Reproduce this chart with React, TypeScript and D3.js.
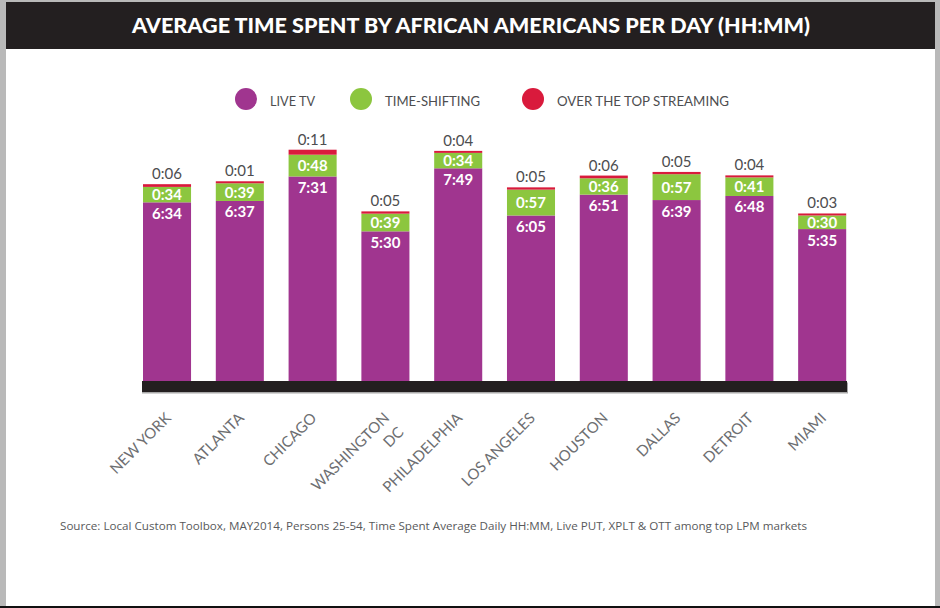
import React from 'react';
import * as d3 from 'd3';

// minutes per day
const cities = ['NEW YORK', 'ATLANTA', 'CHICAGO', 'WASHINGTON DC', 'PHILADELPHIA', 'LOS ANGELES', 'HOUSTON', 'DALLAS', 'DETROIT', 'MIAMI'];
const liveTv = [394, 397, 451, 330, 469, 365, 411, 399, 408, 335];
const timeShifting = [34, 39, 48, 39, 34, 57, 36, 57, 41, 30];
const ottStreaming = [6, 1, 11, 5, 4, 5, 6, 5, 4, 3];
const labelLines: Record<string, string[]> = { 'WASHINGTON DC': ['WASHINGTON', 'DC'] };

const legendItems = [
  { name: 'LIVE TV', color: '#a0358f', len: 45 },
  { name: 'TIME-SHIFTING', color: '#8cc63f', len: 95 },
  { name: 'OVER THE TOP STREAMING', color: '#d91a3c', len: 172 },
];

const fmt = (m: number) => `${Math.floor(m / 60)}:${d3.format('02d')(m % 60)}`;

const App: React.FC = () => {
  const W = 940;
  const H = 608;
  const baseY = 381;

  const x = d3.scaleBand<string>().domain(cities).range([143, 846.2]).paddingInner(0.34).paddingOuter(0);
  const y = d3.scaleLinear().domain([0, 600]).range([baseY, baseY - 600 * 0.4535]);
  const bw = x.bandwidth();
  const font = 'Lato, "Open Sans", sans-serif';

  const legendX = [246, 361, 533];

  return (
    <div style={{ position: 'absolute', left: 0, top: 0 }}>
      <svg width={W} height={H} style={{ display: 'block' }}>
        {/* page frame */}
        <rect x={0} y={0} width={W} height={H} fill="#b9b9b9" />
        <rect x={6} y={2} width={929} height={604} fill="#ffffff" />
        <rect x={0} y={606} width={W} height={2} fill="#111" />
        <rect x={6} y={2} width={929} height={47} fill="#231f20" />
        <text x={471} y={33} textAnchor="middle" fill="#fff" fontFamily={font} fontWeight={900} fontSize={20}
          textLength={678} lengthAdjust="spacingAndGlyphs">
          AVERAGE TIME SPENT BY AFRICAN AMERICANS PER DAY (HH:MM)
        </text>

        {/* legend */}
        {legendItems.map((d, i) => (
          <g key={d.name}>
            <circle cx={legendX[i]} cy={99} r={11} fill={d.color} />
            <text x={legendX[i] + 24} y={106} fill="#4d4d4f" fontFamily={font} fontSize={14}
              textLength={d.len} lengthAdjust="spacingAndGlyphs">{d.name}</text>
          </g>
        ))}

        {/* bars */}
        {cities.map((c, i) => {
          const x0 = x(c)!;
          const cx = x0 + bw / 2;
          const liveTop = y(liveTv[i]);
          const greenTop = y(liveTv[i] + timeShifting[i]);
          const redH = Math.max(y(0) - y(ottStreaming[i]), 2);
          const redTop = greenTop - redH;
          return (
            <g key={c}>
              <rect x={x0} y={liveTop} width={bw} height={baseY - liveTop} fill="#a0358f" />
              <rect x={x0} y={greenTop} width={bw} height={liveTop - greenTop} fill="#8cc63f" />
              <rect x={x0} y={redTop} width={bw} height={redH} fill="#d91a3c" />
              <text x={cx} y={liveTop + 16.5} textAnchor="middle" fill="#fff" fontFamily={font} fontWeight={700} fontSize={15}>
                {fmt(liveTv[i])}
              </text>
              <text x={cx} y={(liveTop + greenTop) / 2 + 5.5} textAnchor="middle" fill="#fff" fontFamily={font} fontWeight={700} fontSize={15}>
                {fmt(timeShifting[i])}
              </text>
              <text x={cx} y={redTop - 5} textAnchor="middle" fill="#4d4d4f" fontFamily={font} fontSize={15}>
                {fmt(ottStreaming[i])}
              </text>
            </g>
          );
        })}

        {/* axis bar */}
        <rect x={142} y={baseY + 1.5} width={706} height={11} fill="#a8a8a8" />
        <rect x={142} y={baseY} width={705} height={11} fill="#231f20" />

        {/* x labels */}
        {cities.map((c) => {
          const cx = x(c)! + bw / 2;
          const lines = labelLines[c] || [c];
          return (
            <text key={c} transform={`translate(${cx + 5},${419}) rotate(-45)`} textAnchor="end" fill="#6d6e71"
              fontFamily={font} fontSize={15}>
              {lines.map((l, j) => (
                <tspan key={l} x={0} dy={j === 0 ? 0 : 20}>{l}</tspan>
              ))}
            </text>
          );
        })}

        {/* source */}
        <text x={60} y={530} fill="#58595b" fontFamily='"Open Sans", Lato, sans-serif' fontSize={11}
          textLength={747} lengthAdjust="spacingAndGlyphs">
          Source: Local Custom Toolbox, MAY2014, Persons 25-54, Time Spent Average Daily HH:MM, Live PUT, XPLT &amp; OTT among top LPM markets
        </text>
      </svg>
    </div>
  );
};

export default App;
